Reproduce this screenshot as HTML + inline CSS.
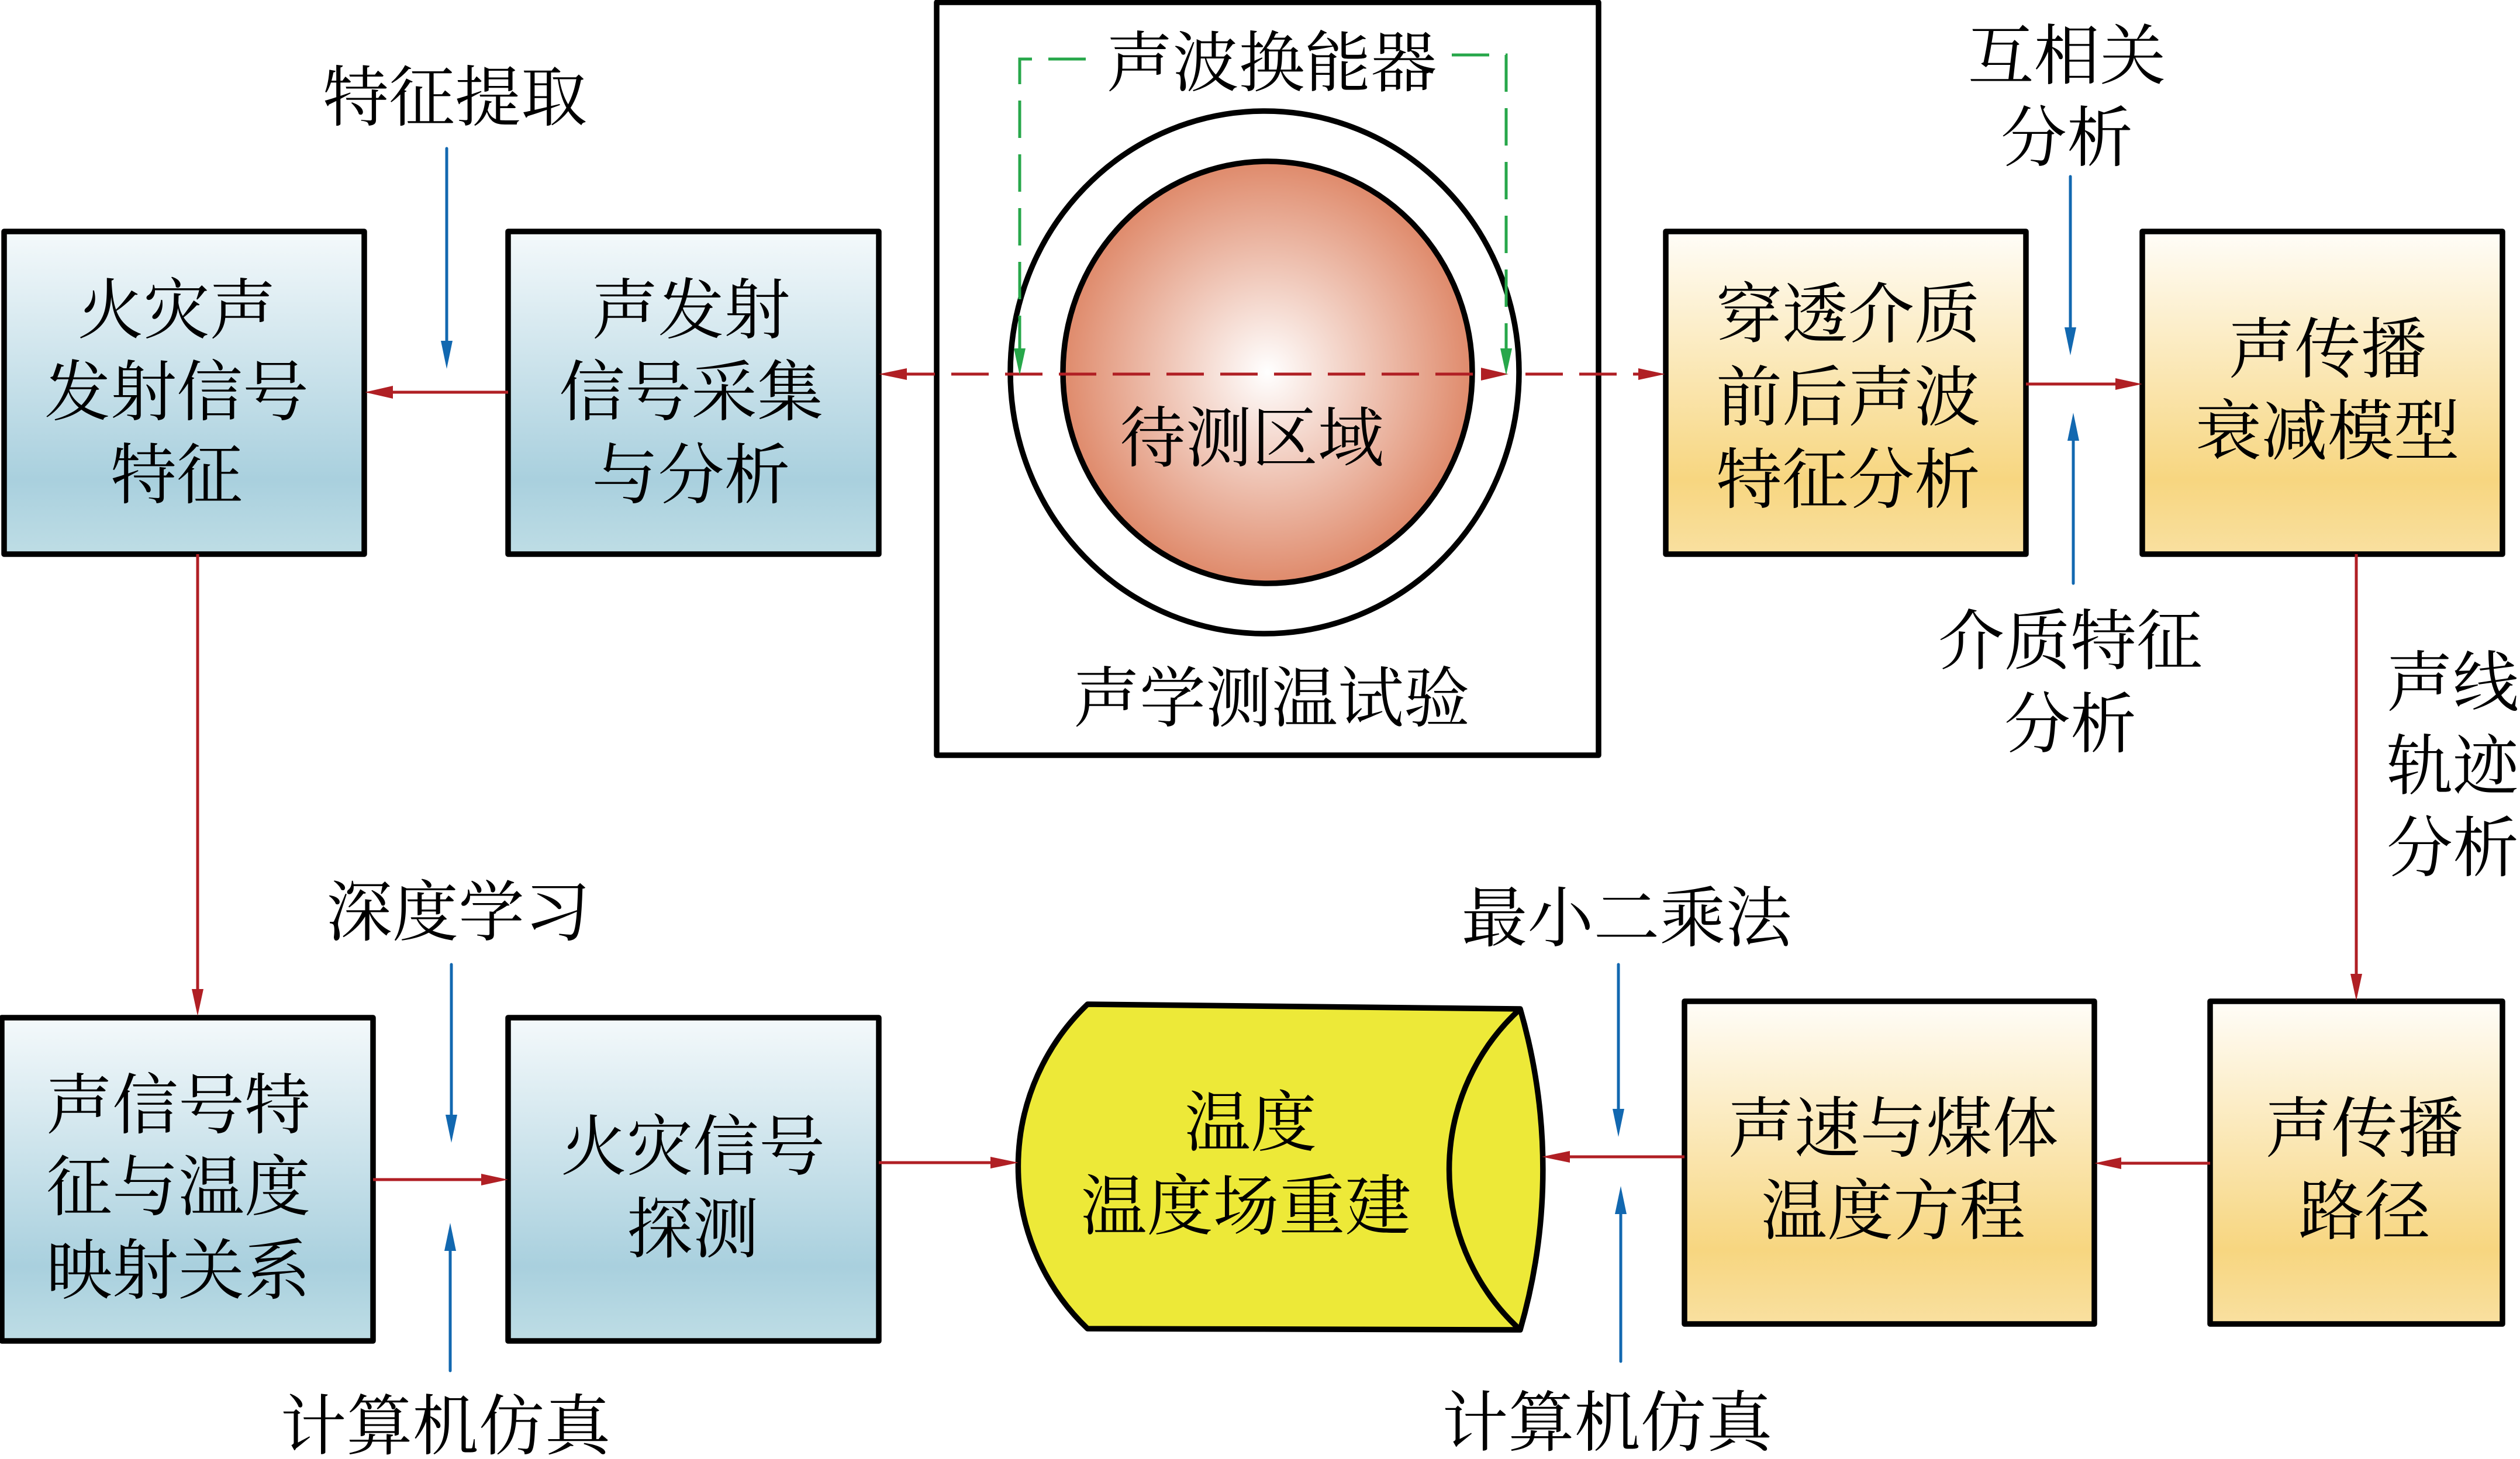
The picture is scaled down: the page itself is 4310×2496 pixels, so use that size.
<!DOCTYPE html>
<html><head><meta charset="utf-8">
<style>html,body{margin:0;padding:0;background:#fff}svg{display:block}
text{font-family:"Liberation Serif","Noto Serif CJK SC",serif;font-size:113px;font-weight:400;fill:#000;text-anchor:middle}</style></head>
<body>
<svg width="4310" height="2496" viewBox="0 0 4310 2496" xmlns="http://www.w3.org/2000/svg">
<defs>
<linearGradient id="b" x1="0" y1="0" x2="0" y2="1"><stop offset="0" stop-color="#F4F9FB"/><stop offset=".77" stop-color="#A9D0DE"/><stop offset="1" stop-color="#BEDDE5"/></linearGradient>
<linearGradient id="y" x1="0" y1="0" x2="0" y2="1"><stop offset="0" stop-color="#FFFDF8"/><stop offset=".77" stop-color="#F7D680"/><stop offset="1" stop-color="#F9E0A0"/></linearGradient>
<radialGradient id="r" cx=".5" cy=".5" r=".5"><stop offset="0" stop-color="#FFFFFF"/><stop offset="1" stop-color="#DF8A6B"/></radialGradient>
</defs>
<g stroke="#000" stroke-width="9.5" stroke-linejoin="round">
<rect x="7" y="396" width="616" height="552" fill="url(#b)"/>
<rect x="869" y="396" width="634" height="552" fill="url(#b)"/>
<rect x="3" y="1741" width="635" height="553" fill="url(#b)"/>
<rect x="869" y="1741" width="634" height="553" fill="url(#b)"/>
<rect x="2849" y="396" width="616" height="552" fill="url(#y)"/>
<rect x="3664" y="396" width="616" height="552" fill="url(#y)"/>
<rect x="2881" y="1713" width="701" height="552" fill="url(#y)"/>
<rect x="3780" y="1713" width="500" height="552" fill="url(#y)"/>
<rect x="1602" y="4" width="1132" height="1288" fill="#fff"/>
<ellipse cx="2163" cy="637" rx="435" ry="447" fill="#fff"/>
<ellipse cx="2168" cy="637" rx="350" ry="361" fill="url(#r)"/>
<path d="M1860,1718 L2600,1726 A989,989 0 0 1 2600,2275 L1860,2273 A384,384 0 0 1 1860,1718 Z" fill="#EDE938"/>
<path d="M2600,1726 A371,371 0 0 0 2600,2275" fill="none"/>
</g>
<g fill="none" stroke="#B01F24" stroke-width="5">
<path d="M1535,640 H2540" stroke-dasharray="64 28"/>
<path d="M2609,640 H2810" stroke-dasharray="64 28"/>
<path d="M869,671 H660"/>
<path d="M3465,657 H3630"/>
<path d="M338,948 V1700"/>
<path d="M4030,948 V1680"/>
<path d="M638,2018 H840"/>
<path d="M1503,1989 H1710"/>
<path d="M2881,1979 H2680"/>
<path d="M3780,1990 H3620"/>
</g>
<g fill="#B01F24">
<path d="M1503,640 l48,-10 v20 z"/>
<path d="M2580,640 l-47,-11 v22 z"/>
<path d="M2848,640 l-46,-10 v20 z"/>
<path d="M624,671 l48,-11 v22 z"/>
<path d="M3664,657 l-46,-10 v20 z"/>
<path d="M338,1738 l-10,-46 h20 z"/>
<path d="M4030,1712 l-10,-46 h20 z"/>
<path d="M869,2018 l-46,-10 v20 z"/>
<path d="M1742,1989 l-48,-10 v20 z"/>
<path d="M2637,1979 l48,-10 v20 z"/>
<path d="M3582,1990 l46,-10 v20 z"/>
</g>
<g fill="none" stroke="#27A74A" stroke-width="5">
<path d="M1857,101 H1744 V610" stroke-dasharray="64 28"/>
<path d="M2483,94 H2576 V610" stroke-dasharray="64 28"/>
</g>
<g fill="#27A74A">
<path d="M1744,642 l-10,-46 h20 z"/>
<path d="M2576,642 l-10,-46 h20 z"/>
</g>
<g fill="none" stroke="#1268B0" stroke-width="5" stroke-linecap="round">
<path d="M764,254 V590"/>
<path d="M3541,302 V570"/>
<path d="M3546,998 V745"/>
<path d="M772,1650 V1920"/>
<path d="M770,2345 V2130"/>
<path d="M2768,1650 V1910"/>
<path d="M2772,2329 V2065"/>
</g>
<g fill="#1268B0">
<path d="M764,631 l-10,-48 h20 z"/>
<path d="M3541,608 l-10,-48 h20 z"/>
<path d="M3546,706 l-10,48 h20 z"/>
<path d="M772,1955 l-10,-48 h20 z"/>
<path d="M770,2092 l-10,48 h20 z"/>
<path d="M2768,1945 l-10,-48 h20 z"/>
<path d="M2772,2029 l-10,48 h20 z"/>
</g>
<g>
<text x="778" y="206">特征提取</text>
<text x="302" y="570">火灾声</text>
<text x="302" y="710">发射信号</text>
<text x="302" y="852">特征</text>
<text x="1182" y="570">声发射</text>
<text x="1182" y="710">信号采集</text>
<text x="1182" y="852">与分析</text>
<text x="2175" y="147">声波换能器</text>
<text x="2141" y="789">待测区域</text>
<text x="2175" y="1234">声学测温试验</text>
<text x="3535" y="135">互相关</text>
<text x="3535" y="275">分析</text>
<text x="3161" y="577">穿透介质</text>
<text x="3161" y="719">前后声波</text>
<text x="3161" y="860">特征分析</text>
<text x="3981" y="637">声传播</text>
<text x="3981" y="777">衰减模型</text>
<text x="3541" y="1136">介质特征</text>
<text x="3541" y="1278">分析</text>
<text x="4195" y="1207">声线</text>
<text x="4195" y="1350">轨迹</text>
<text x="4195" y="1490">分析</text>
<text x="784" y="1600">深度学习</text>
<text x="305" y="1930">声信号特</text>
<text x="305" y="2070">征与温度</text>
<text x="305" y="2213">映射关系</text>
<text x="1185" y="2001">火灾信号</text>
<text x="1185" y="2142">探测</text>
<text x="762" y="2479">计算机仿真</text>
<text x="2139" y="1960">温度</text>
<text x="2131" y="2103">温度场重建</text>
<text x="2782" y="1610">最小二乘法</text>
<text x="3238" y="1970">声速与煤体</text>
<text x="3238" y="2111">温度方程</text>
<text x="4044" y="1970">声传播</text>
<text x="4044" y="2111">路径</text>
<text x="2749" y="2473">计算机仿真</text>
</g>
</svg>
</body></html>
